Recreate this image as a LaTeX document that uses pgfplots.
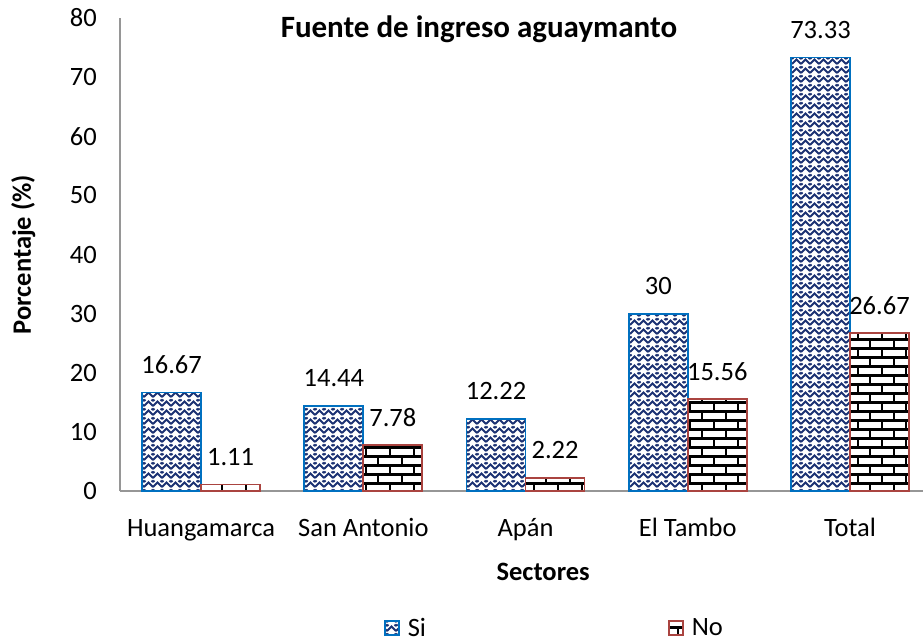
\documentclass[border=0pt]{standalone}
\usepackage{fontspec}
\setmainfont{Carlito}
\usepackage{pgfplots}
\pgfplotsset{compat=1.18}
\usetikzlibrary{patterns,patterns.meta}
\definecolor{siborder}{RGB}{0,112,192}
\definecolor{sifill}{RGB}{28,50,115}
\definecolor{noborder}{RGB}{170,68,64}
\definecolor{axgray}{RGB}{150,150,150}
\tikzdeclarepattern{
  name=weave,
  type=uncolored,
  bottom left={(-1pt,-1pt)},
  top right={(10pt,10pt)},
  tile size={(9pt,9pt)},
  code={
    \draw[line width=2pt] (0pt,1pt) -- (4.5pt,5.5pt) -- (9pt,1pt);
    \draw[line width=2pt] (0pt,6pt) -- (1.5pt,7.5pt);
    \draw[line width=2pt] (9pt,6pt) -- (7.5pt,7.5pt);
  }
}
\tikzdeclarepattern{
  name=mybricks,
  type=uncolored,
  bottom left={(-1pt,-1pt)},
  top right={(25pt,19pt)},
  tile size={(24pt,18pt)},
  code={
    \draw[line width=2.6pt] (-1pt,4.5pt) -- (25pt,4.5pt) (-1pt,13.5pt) -- (25pt,13.5pt);
    \draw[line width=2.6pt] (6pt,4.5pt) -- (6pt,13.5pt) (18pt,13.5pt) -- (18pt,19pt) (18pt,-1pt) -- (18pt,4.5pt);
  }
}
\begin{document}
\begin{tikzpicture}[font=\fontsize{26.5}{31}\selectfont]
\fill[white] (0,0) rectangle (923pt,641pt);
\begin{axis}[
  at={(120pt,150pt)}, anchor=south west,
  scale only axis, width=803pt, height=473pt,
  ybar=0pt, bar width=59pt,
  ymin=0, ymax=80, ytick={0,10,...,80},
  yticklabels={0,10,20,30,40,50,60,70,80},
  xmin=-0.5, xmax=4.45,
  xtick={0,1,2,3,4},
  xticklabels={Huangamarca,San Antonio,Apán,El Tambo,Total},
  /pgf/number format/assume math mode=true,
  axis x line=bottom, axis y line=left,
  axis line style={-, axgray, line width=1.3pt},
  major tick length=0pt,
  xticklabel style={anchor=base, inner sep=0pt, yshift=-45pt},
  yticklabel style={anchor=east, inner sep=0pt, xshift=-23pt},
  xlabel={\textbf{Sectores}},
  ylabel={\textbf{Porcentaje (\%)}},
  every axis x label/.style={at={(rel axis cs:0.527,0)}, anchor=base, yshift=-89pt},
  every axis y label/.style={at={(rel axis cs:0,0.5)}, xshift=-89pt, rotate=90, anchor=base},
  nodes near coords,
  every node near coord/.append style={anchor=base, inner sep=0pt, yshift=19pt, black},
  legend columns=2,
  legend style={draw=none, at={(0.541,-0.289)}, anchor=center, fill=none,
    /tikz/every odd column/.append style={column sep=6pt},
    /tikz/every even column/.append style={column sep=240pt}},
  legend image code/.code={\draw[#1] (0pt,-7pt) rectangle (14pt,7pt);},
  clip=false,
]
\addplot[draw=siborder, line width=1.8pt, pattern=weave, pattern color=sifill]
  coordinates {(0,16.67) (1,14.44) (2,12.22) (3,30) (4,73.33)};
\addplot[draw=noborder, line width=1.8pt, pattern=mybricks, pattern color=black]
  coordinates {(0,1.11) (1,7.78) (2,2.22) (3,15.56) (4,26.67)};
\legend{Si,No}
\node[anchor=base, font=\fontsize{31}{36}\selectfont\bfseries] at (rel axis cs:0.447,1) [yshift=-19pt] {Fuente de ingreso aguaymanto};
\end{axis}
\pgfresetboundingbox
\path[use as bounding box] (0,0) rectangle (923pt,641pt);
\end{tikzpicture}
\end{document}
